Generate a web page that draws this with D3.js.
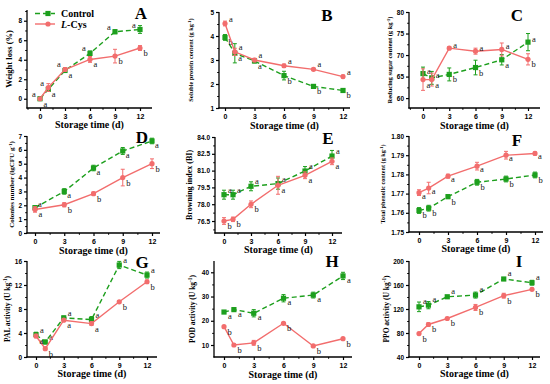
<!DOCTYPE html>
<html>
<head>
<meta charset="utf-8">
<script src="https://cdn.jsdelivr.net/npm/d3@7"></script>
<style>
  body { margin: 0; background: #fff; }
  svg { font-family: "Liberation Serif", "Times New Roman", serif; }
  .tick text { font-weight: bold; }
</style>
</head>
<body>
<div id="chart-area"></div>
<script>
const chartWidth = 550
const chartHeight = 384
const green = "#1d9f1d"
const red = "#f26d6d"

// storage days
const days6 = [0, 1, 3, 6, 9, 12]
const days5 = [0, 3, 6, 9, 12]
const xTicks = [0, 3, 6, 9, 12]

// A - weight loss
const weightLossControl = [0, 0.96, 2.9, 4.65, 6.87, 7.1]
const weightLossControlErr = [0.05, 0.2, 0.15, 0.25, 0.2, 0.4]
const weightLossLcys = [0, 1.15, 3.0, 4.03, 4.37, 5.2]
const weightLossLcysErr = [0.05, 0.4, 0.2, 0.3, 0.7, 0.25]
const weightLossControlLetters = ["a", "a", "a", "a", "a", "a"]
const weightLossLcysLetters = ["a", "a", "a", "a", "b", "b"]

// B - soluble protein
const proteinControl = [3.94, 3.28, 2.96, 2.35, 1.9, 1.73]
const proteinControlErr = [0.12, 0.4, 0.08, 0.18, 0.06, 0.08]
const proteinLcys = [4.52, 3.34, 3.0, 2.76, 2.61, 2.31]
const proteinLcysErr = [0.1, 0.15, 0.07, 0.07, 0.05, 0.06]
const proteinControlLetters = ["b", "a", "a", "b", "b", "b"]
const proteinLcysLetters = ["a", "a", "a", "a", "a", "a"]

// C - reducing sugar
const sugarControl = [65.7, 64.7, 65.5, 67.1, 68.9, 73.0]
const sugarControlErr = [1.5, 1.5, 1.5, 1.7, 1.2, 2.0]
const sugarLcys = [64.3, 64.3, 71.6, 70.9, 71.3, 69.0]
const sugarLcysErr = [2.5, 1.5, 0.3, 0.7, 1.5, 1.3]
const sugarControlLetters = ["a", "a", "b", "b", "a", "a"]
const sugarLcysLetters = ["a", "a", "a", "a", "a", "b"]

// D - colonies number
const coloniesControl = [1.83, 3.0, 4.69, 5.92, 6.64]
const coloniesControlErr = [0.1, 0.2, 0.2, 0.25, 0.2]
const coloniesLcys = [1.7, 2.04, 2.84, 4.0, 5.0]
const coloniesLcysErr = [0.2, 0.15, 0.12, 0.6, 0.35]
const coloniesControlLetters = ["a", "a", "a", "a", "a"]
const coloniesLcysLetters = ["a", "b", "b", "b", "b"]

// E - browning index
const browningControl = [78.85, 78.85, 79.6, 79.84, 80.96, 82.3]
const browningControlErr = [0.4, 0.4, 0.4, 0.5, 0.4, 0.5]
const browningLcys = [76.5, 76.65, 77.99, 79.69, 80.58, 81.83]
const browningLcysErr = [0.3, 0.2, 0.3, 0.8, 0.3, 0.3]
const browningControlLetters = ["a", "a", "a", "a", "a", "a"]
const browningLcysLetters = ["b", "b", "b", "a", "a", "a"]

// F - total phenolic
const phenolicControl = [1.7612, 1.7624, 1.7684, 1.7759, 1.7776, 1.7797]
const phenolicControlErr = [0.0015, 0.0015, 0.001, 0.0015, 0.0015, 0.0015]
const phenolicLcys = [1.7705, 1.7729, 1.7791, 1.7843, 1.79, 1.7909]
const phenolicLcysErr = [0.0015, 0.003, 0.001, 0.002, 0.002, 0.0008]
const phenolicControlLetters = ["b", "b", "b", "b", "b", "b"]
const phenolicLcysLetters = ["a", "a", "a", "a", "a", "a"]

// G - PAL activity
const palControl = [3.73, 2.5, 6.52, 6.24, 15.33, 13.66]
const palControlErr = [0.4, 0.3, 0.3, 0.5, 0.6, 0.5]
const palLcys = [3.5, 1.39, 6.13, 5.57, 9.2, 12.54]
const palLcysErr = [0.3, 0.2, 0.2, 0.3, 0.2, 0.3]
const palControlLetters = ["a", "a", "a", "a", "a", "a"]
const palLcysLetters = ["a", "b", "a", "a", "b", "b"]

// H - POD activity
const podControl = [23.6, 24.6, 23.1, 29.3, 30.6, 38.5]
const podControlErr = [0.6, 0.5, 1.5, 1.5, 1.2, 1.5]
const podLcys = [17.55, 10.0, 10.9, 18.96, 9.6, 12.6]
const podLcysErr = [0.4, 0.4, 1.0, 0.4, 0.3, 0.4]
const podControlLetters = ["a", "a", "a", "a", "a", "a"]
const podLcysLetters = ["b", "b", "b", "b", "b", "b"]

// I - PPO activity
const ppoControl = [123.6, 126.4, 140.4, 143.2, 170, 163.8]
const ppoControlErr = [8, 6, 2, 5, 2, 4]
const ppoLcys = [79, 94.2, 104.2, 122.6, 142.2, 152.8]
const ppoLcysErr = [2, 3, 2, 5, 4, 2]
const ppoControlLetters = ["a", "a", "a", "a", "a", "a"]
const ppoLcysLetters = ["b", "b", "b", "b", "b", "b"]

// panels: data + axis settings
const panels = [
  { id: "A", days: days6, c: weightLossControl, ce: weightLossControlErr, l: weightLossLcys, le: weightLossLcysErr,
    cl: weightLossControlLetters, ll: weightLossLcysLetters, yDomain: [-0.95, 9.1], yTicks: [0, 2, 4, 6, 8], fmt: d3.format("d"),
    label: ["Weight loss (%)"] },
  { id: "B", days: days6, c: proteinControl, ce: proteinControlErr, l: proteinLcys, le: proteinLcysErr,
    cl: proteinControlLetters, ll: proteinLcysLetters, yDomain: [1, 5], yTicks: [1, 2, 3, 4, 5], fmt: d3.format("d"),
    label: ["Soluble protein content (g kg", "-1", ")"] },
  { id: "C", days: days6, c: sugarControl, ce: sugarControlErr, l: sugarLcys, le: sugarLcysErr,
    cl: sugarControlLetters, ll: sugarLcysLetters, yDomain: [57.7, 80], yTicks: [60, 65, 70, 75, 80], fmt: d3.format("d"),
    label: ["Reducing sugar content (g kg", "-1", ")"] },
  { id: "D", days: days5, c: coloniesControl, ce: coloniesControlErr, l: coloniesLcys, le: coloniesLcysErr,
    cl: coloniesControlLetters, ll: coloniesLcysLetters, yDomain: [0, 7], yTicks: [0, 1, 2, 3, 4, 5, 6, 7], fmt: d3.format("d"),
    label: ["Colonies number (lgCFU g", "-1", ")"] },
  { id: "E", days: days6, c: browningControl, ce: browningControlErr, l: browningLcys, le: browningLcysErr,
    cl: browningControlLetters, ll: browningLcysLetters, yDomain: [75.43, 84], yTicks: [76.5, 78, 79.5, 81, 82.5, 84], fmt: d3.format(".1f"),
    label: ["Browning index (BI)"] },
  { id: "F", days: days6, c: phenolicControl, ce: phenolicControlErr, l: phenolicLcys, le: phenolicLcysErr,
    cl: phenolicControlLetters, ll: phenolicLcysLetters, yDomain: [1.75, 1.80], yTicks: [1.75, 1.76, 1.77, 1.78, 1.79, 1.80], fmt: d3.format(".2f"),
    label: ["Total phenolic content (g kg", "-1", ")"] },
  { id: "G", days: days6, c: palControl, ce: palControlErr, l: palLcys, le: palLcysErr,
    cl: palControlLetters, ll: palLcysLetters, yDomain: [0, 16], yTicks: [0, 4, 8, 12, 16], fmt: d3.format("d"),
    label: ["PAL activity (U kg", "-1", ")"] },
  { id: "H", days: days6, c: podControl, ce: podControlErr, l: podLcys, le: podLcysErr,
    cl: podControlLetters, ll: podLcysLetters, yDomain: [5.05, 44.66], yTicks: [10, 20, 30, 40], fmt: d3.format("d"),
    label: ["POD activity (U kg", "-1", ")"] },
  { id: "I", days: days6, c: ppoControl, ce: ppoControlErr, l: ppoLcys, le: ppoLcysErr,
    cl: ppoControlLetters, ll: ppoLcysLetters, yDomain: [40, 200], yTicks: [40, 80, 120, 160, 200], fmt: d3.format("d"),
    label: ["PPO activity (U kg", "-1", ")"] }
]

// page layout of each panel (pixel boxes); hi = offset of the upper series' letters
const layout = {
  A: { left: 27, right: 152, top: 10, bottom: 108, d0: 40, d12: 140, labelX: 12, labelSize: 8.5, letter: [141, 13], titleY: 128, hi: [-8, -2] },
  B: { left: 219, right: 350, top: 12, bottom: 108, d0: 225, d12: 343, labelX: 193, labelSize: 6.3, letter: [327, 15], titleY: 129, hi: [4, -2] },
  C: { left: 409, right: 540, top: 12, bottom: 108, d0: 423, d12: 528, labelX: 392, labelSize: 6.5, letter: [517, 15], titleY: 129, hi: [4, 0] },
  D: { left: 27, right: 160, top: 136, bottom: 233, d0: 35, d12: 152, labelX: 14, labelSize: 7, letter: [142, 137], titleY: 254, hi: [3, 7] },
  E: { left: 215, right: 342, top: 137, bottom: 233, d0: 224, d12: 332, labelX: 192, labelSize: 8, letter: [328, 138], titleY: 253, hi: [4, -2] },
  F: { left: 409, right: 543, top: 136, bottom: 232, d0: 419, d12: 535, labelX: 385, labelSize: 6.2, letter: [517, 140], titleY: 252, hi: [3, 6] },
  G: { left: 27, right: 157, top: 261, bottom: 357, d0: 36, d12: 147, labelX: 10, labelSize: 7.5, letter: [142, 262], titleY: 377, hi: [4, -2] },
  H: { left: 214, right: 352, top: 261, bottom: 357, d0: 224, d12: 343, labelX: 195, labelSize: 7.5, letter: [332, 261], titleY: 378, hi: [4, 7] },
  I: { left: 409, right: 540, top: 261, bottom: 357, d0: 419, d12: 532, labelX: 389, labelSize: 7.5, letter: [519, 261], titleY: 377, hi: [4, -3] }
}

const svg = d3.select("#chart-area").append("svg")
    .attr("width", chartWidth)
    .attr("height", chartHeight)

function drawPanel(p) {
  const box = layout[p.id]
  const g = svg.append("g")

  const x = d3.scaleLinear().domain([0, 12]).range([box.d0, box.d12])
  const y = d3.scaleLinear().domain(p.yDomain).range([box.bottom, box.top])

  // minor ticks halfway between majors
  const yStep = p.yTicks[1] - p.yTicks[0]
  const yMinor = p.yTicks.map(t => t + yStep / 2).filter(t => y(t) >= box.top - 0.5)
  if (p.yTicks[0] - yStep / 2 >= p.yDomain[0]) yMinor.push(p.yTicks[0] - yStep / 2)
  const xMinor = [-1.5, 1.5, 4.5, 7.5, 10.5, 13.5].filter(t => x(t) >= box.left && x(t) <= box.right)

  // axes
  const yAxis = g.append("g")
      .attr("transform", `translate(${box.left},0)`)
      .call(d3.axisLeft(y).tickValues(p.yTicks).tickFormat(p.fmt).tickSize(3).tickPadding(2))
  yAxis.select(".domain").remove()
  yAxis.selectAll(".tick text").attr("font-size", 6.5)
  yAxis.selectAll(".tick line").attr("stroke-width", 1.2)
  g.append("g")
      .attr("transform", `translate(${box.left},0)`)
      .call(d3.axisLeft(y).tickValues(yMinor).tickFormat("").tickSize(1.8))
      .call(a => a.select(".domain").remove())

  const xAxis = g.append("g")
      .attr("transform", `translate(0,${box.bottom})`)
      .call(d3.axisBottom(x).tickValues(xTicks).tickFormat(d3.format("d")).tickSize(3).tickPadding(3))
  xAxis.select(".domain").remove()
  xAxis.selectAll(".tick text").attr("font-size", 7)
  xAxis.selectAll(".tick line").attr("stroke-width", 1.2)
  g.append("g")
      .attr("transform", `translate(0,${box.bottom})`)
      .call(d3.axisBottom(x).tickValues(xMinor).tickFormat("").tickSize(1.8))
      .call(a => a.select(".domain").remove())

  g.append("line")
      .attr("x1", box.left).attr("x2", box.left)
      .attr("y1", box.top).attr("y2", box.bottom + 0.6)
      .attr("stroke", "#000").attr("stroke-width", 1.3)
  g.append("line")
      .attr("x1", box.left - 0.6).attr("x2", box.right)
      .attr("y1", box.bottom).attr("y2", box.bottom)
      .attr("stroke", "#000").attr("stroke-width", 1.3)

  // axis titles
  g.append("text")
      .attr("x", (box.left + box.right) / 2)
      .attr("y", box.titleY)
      .attr("text-anchor", "middle")
      .attr("font-size", 10)
      .attr("font-weight", "bold")
      .text("Storage time (d)")

  const yl = g.append("text")
      .attr("transform", `translate(${box.labelX},${(box.top + box.bottom) / 2}) rotate(-90)`)
      .attr("text-anchor", "middle")
      .attr("font-size", box.labelSize)
      .attr("font-weight", "bold")
  yl.append("tspan").text(p.label[0])
  if (p.label.length > 1) {
    yl.append("tspan").attr("font-size", box.labelSize * 0.7).attr("dy", -box.labelSize * 0.35).text(p.label[1])
    yl.append("tspan").attr("dy", box.labelSize * 0.35).text(p.label[2])
  }

  // panel letter
  g.append("text")
      .attr("x", box.letter[0]).attr("y", box.letter[1] + 6)
      .attr("text-anchor", "middle")
      .attr("font-size", 17)
      .attr("font-weight", "bold")
      .text(p.id)

  const series = [
    { vals: p.c, errs: p.ce, letters: p.cl, other: p.l, color: green, dash: "5,3", marker: "square", isControl: true },
    { vals: p.l, errs: p.le, letters: p.ll, other: p.c, color: red, dash: null, marker: "circle", isControl: false }
  ]

  series.forEach(s => {
    const pts = p.days.map((d, i) => {
      const high = s.vals[i] > s.other[i] || (s.vals[i] === s.other[i] && s.isControl)
      let ly = y(s.vals[i]) + (high ? box.hi[1] : 8)
      // keep the upper letter clear of the lower one when points nearly meet
      if (high) {
        const lowY = y(s.other[i]) + 8
        if (Math.abs(lowY - ly) < 8) ly = lowY - 10
      }
      return { d, v: s.vals[i], e: s.errs[i], letter: s.letters[i], high, ly }
    })
    const sg = g.append("g")

    sg.append("path")
        .datum(pts)
        .attr("fill", "none")
        .attr("stroke", s.color)
        .attr("stroke-width", 1.4)
        .attr("stroke-dasharray", s.dash)
        .attr("d", d3.line().x(q => x(q.d)).y(q => y(q.v)))

    // error bars
    const eb = sg.selectAll(".err").data(pts).join("g")
    eb.append("line")
        .attr("x1", q => x(q.d)).attr("x2", q => x(q.d))
        .attr("y1", q => y(q.v - q.e)).attr("y2", q => y(q.v + q.e))
        .attr("stroke", s.color).attr("stroke-width", 1)
    ;[-1, 1].forEach(sign => {
      eb.append("line")
          .attr("x1", q => x(q.d) - 2).attr("x2", q => x(q.d) + 2)
          .attr("y1", q => y(q.v + sign * q.e)).attr("y2", q => y(q.v + sign * q.e))
          .attr("stroke", s.color).attr("stroke-width", 1)
    })

    if (s.marker === "square") {
      sg.selectAll(".mk").data(pts).join("rect")
          .attr("x", q => x(q.d) - 2.6).attr("y", q => y(q.v) - 2.6)
          .attr("width", 5.2).attr("height", 5.2)
          .attr("fill", s.color)
    } else {
      sg.selectAll(".mk").data(pts).join("circle")
          .attr("cx", q => x(q.d)).attr("cy", q => y(q.v))
          .attr("r", 2.6)
          .attr("fill", s.color)
    }

    // significance letters
    sg.selectAll(".sig").data(pts).join("text")
        .attr("x", q => x(q.d) + (q.high ? box.hi[0] : 3.5))
        .attr("y", q => q.ly)
        .attr("font-size", 8.5)
        .attr("fill", "#111")
        .text(q => q.letter)
  })
}

panels.forEach(drawPanel)

// legend inside panel A
const legend = svg.append("g")
const legendItems = [
  { name: "Control", color: green, dash: "5,3", marker: "square", y: 13.5 },
  { name: "L-Cys", color: red, dash: null, marker: "circle", y: 24 }
]
legendItems.forEach(item => {
  legend.append("line")
      .attr("x1", 35).attr("x2", 55)
      .attr("y1", item.y).attr("y2", item.y)
      .attr("stroke", item.color).attr("stroke-width", 1.4)
      .attr("stroke-dasharray", item.dash)
  if (item.marker === "square") {
    legend.append("rect").attr("x", 45.4).attr("y", item.y - 2.6).attr("width", 5.2).attr("height", 5.2).attr("fill", item.color)
  } else {
    legend.append("circle").attr("cx", 48).attr("cy", item.y).attr("r", 2.6).attr("fill", item.color)
  }
  const t = legend.append("text")
      .attr("x", 61).attr("y", item.y + 3.5)
      .attr("font-size", 10)
      .attr("font-weight", "bold")
  if (item.name === "L-Cys") {
    t.append("tspan").attr("font-style", "italic").text("L")
    t.append("tspan").text("-Cys")
  } else {
    t.text(item.name)
  }
})
</script>
</body>
</html>
